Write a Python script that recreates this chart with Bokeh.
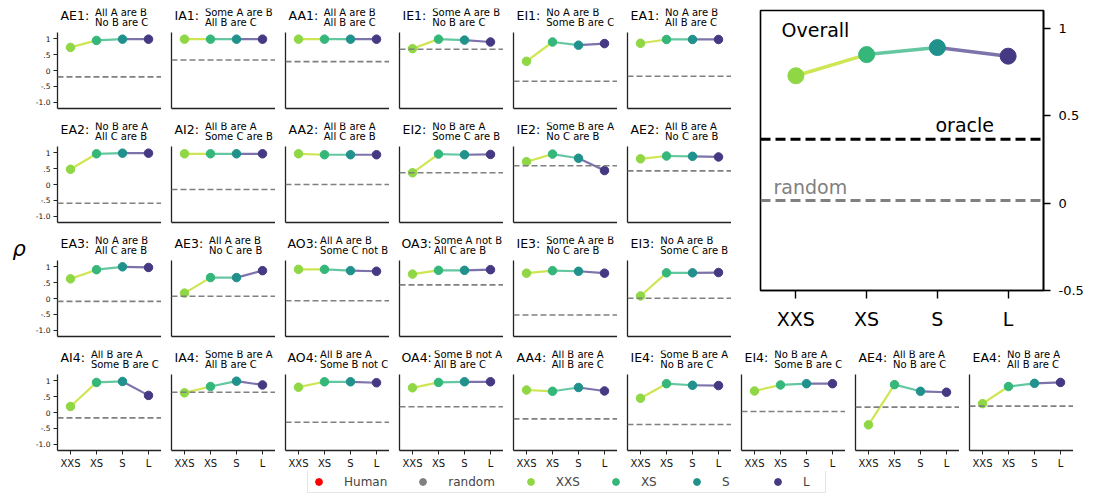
from bokeh.plotting import figure
from bokeh.models import Range1d, FactorRange, Span, Label, FixedTicker, Legend, LegendItem
from bokeh.layouts import row, column
from bokeh.embed import file_html
from bokeh.resources import INLINE

FONT = "DejaVu Sans"

# ---------------- data ----------------
sizes = ["XXS", "XS", "S", "L"]
size_colors = ["#8fd744", "#35b779", "#21918c", "#443983"]
seg_colors = ["#c3df28", "#3fb98a", "#5b5096"]

codes = ["AE1", "IA1", "AA1", "IE1", "EI1", "EA1",
         "EA2", "AI2", "AA2", "EI2", "IE2", "AE2",
         "EA3", "AE3", "AO3", "OA3", "IE3", "EI3",
         "AI4", "IA4", "AO4", "OA4", "AA4", "IE4", "EI4", "AE4", "EA4"]
premise1 = ["All A are B", "Some A are B", "All A are B", "Some A are B", "No A are B", "No A are B",
            "No B are A", "All B are A", "All B are A", "No B are A", "Some B are A", "All B are A",
            "No A are B", "All A are B", "All A are B", "Some A not B", "Some A are B", "No A are B",
            "All B are A", "Some B are A", "All B are A", "Some B not A", "All B are A", "Some B are A",
            "No B are A", "All B are A", "No B are A"]
premise2 = ["No B are C", "All B are C", "All B are C", "No B are C", "Some B are C", "All B are C",
            "All C are B", "Some C are B", "All C are B", "Some C are B", "No C are B", "No C are B",
            "All C are B", "No C are B", "Some C not B", "All C are B", "No C are B", "Some C are B",
            "Some B are C", "All B are C", "Some B not C", "All B are C", "All B are C", "No B are C",
            "Some B are C", "No B are C", "All B are C"]
rho_xxs = [0.73, 0.99, 0.99, 0.69, 0.29, 0.86,
           0.48, 0.97, 0.97, 0.37, 0.72, 0.81,
           0.62, 0.17, 0.92, 0.77, 0.80, 0.08,
           0.19, 0.62, 0.80, 0.78, 0.71, 0.45, 0.68, -0.39, 0.28]
rho_xs = [0.95, 0.99, 0.99, 0.99, 0.90, 0.98,
          0.97, 0.97, 0.94, 0.96, 0.96, 0.90,
          0.91, 0.66, 0.92, 0.89, 0.88, 0.81,
          0.95, 0.82, 0.97, 0.95, 0.67, 0.91, 0.87, 0.88, 0.82]
rho_s = [0.99, 0.99, 0.99, 0.96, 0.80, 0.98,
         0.99, 0.97, 0.94, 0.94, 0.83, 0.89,
         1.00, 0.66, 0.88, 0.89, 0.86, 0.81,
         0.98, 0.99, 0.97, 0.97, 0.79, 0.86, 0.91, 0.67, 0.92]
rho_l = [0.99, 0.99, 0.99, 0.90, 0.85, 0.98,
         0.99, 0.97, 0.94, 0.95, 0.44, 0.87,
         0.98, 0.88, 0.86, 0.91, 0.80, 0.82,
         0.54, 0.87, 0.94, 0.97, 0.68, 0.85, 0.91, 0.64, 0.95]
rho_random = [-0.20, 0.33, 0.28, 0.67, -0.34, -0.18,
              -0.59, -0.16, 0.00, 0.37, 0.59, 0.43,
              -0.09, 0.07, -0.07, 0.43, -0.52, 0.01,
              -0.17, 0.64, -0.31, 0.18, -0.20, -0.38, 0.03, 0.17, 0.20]

overall_rho = [0.727, 0.848, 0.888, 0.839]
overall_oracle = 0.365
overall_random = 0.015

ytick_vals = [-1.0, -0.5, 0.0, 0.5, 1.0]
ytick_labels = ["-1.0", "-.5", "0", ".5", "1"]
overall_ytick_vals = [-0.5, 0.0, 0.5, 1.0]
overall_ytick_labels = ["-0.5", "0", "0.5", "1"]

legend_names = ["Human", "random", "XXS", "XS", "S", "L"]
legend_colors = ["#ff0000", "#808080"] + size_colors

# DejaVu Sans advance widths (em) for the panel codes
CHAR_W = {"A": 0.684, "E": 0.632, "I": 0.295, "O": 0.787, "1": 0.636,
          "2": 0.636, "3": 0.636, "4": 0.636, ":": 0.337}

Y_LO, Y_HI = -1.2, 1.2
PLOT_H = 76          # height of the data area of a small panel
TITLE_H = 24         # extra room above it (inside the frame) for the title texts
Y_TOP = Y_HI + (Y_HI - Y_LO) * TITLE_H / PLOT_H
RHO_W = 24           # strip holding the rho label, left of rows 1-3


def base_fig(**kw):
    p = figure(output_backend="svg", toolbar_location=None,
               background_fill_color="white", border_fill_color="white", **kw)
    p.xgrid.visible = False
    p.ygrid.visible = False
    return p


def small_panel(i, left_border, first_col, last_row):
    p = base_fig(frame_width=104, frame_height=PLOT_H + TITLE_H,
                 x_range=FactorRange(factors=sizes), y_range=Range1d(Y_LO, Y_TOP),
                 min_border_left=left_border, min_border_right=0,
                 min_border_top=0, min_border_bottom=20 if last_row else 14,
                 outline_line_color=None)
    xa, ya = p.xaxis[0], p.yaxis[0]
    for ax in (xa, ya):
        ax.axis_line_color = "#222222"
        ax.axis_line_width = 1.3
        ax.major_tick_line_color = "#222222"
        ax.minor_tick_line_color = None
        ax.major_tick_in = 0
        ax.major_label_text_font = FONT
        ax.major_label_text_color = "#111111"
    ya.bounds = (Y_LO, Y_HI)
    if first_col:
        ya.ticker = FixedTicker(ticks=ytick_vals)
        ya.major_label_overrides = dict(zip(ytick_vals, ytick_labels))
        ya.major_tick_out = 4
        ya.major_label_text_font_size = "7.5px"
        ya.major_label_standoff = 3
    else:
        ya.ticker = FixedTicker(ticks=[])
        ya.major_tick_out = 0
        ya.major_label_standoff = 0
    if last_row:
        xa.major_tick_out = 4
        xa.major_label_text_font_size = "10px"
        xa.major_label_standoff = 3
    else:
        xa.ticker = FixedTicker(ticks=[])
        xa.major_tick_out = 0
        xa.major_label_standoff = 0

    p.add_layout(Span(location=rho_random[i], dimension="width", line_color="#808080",
                      line_dash="6 3", line_width=1.6))
    vals = [rho_xxs[i], rho_xs[i], rho_s[i], rho_l[i]]
    p.segment(x0=sizes[:-1], y0=vals[:-1], x1=sizes[1:], y1=vals[1:],
              line_color=seg_colors, line_width=2.2, line_alpha=0.8)
    p.scatter(x=sizes, y=vals, size=8.5, fill_color=size_colors, line_color=size_colors)

    code = codes[i] + ":"
    narrow = "O" in code
    x0 = 2 if narrow else 3
    gap = 2 if narrow else 6
    p.add_layout(Label(x=x0, y=PLOT_H + 17, x_units="screen", y_units="screen", text=code,
                       text_font=FONT, text_font_size="12.5px", text_baseline="middle",
                       text_color="black"))
    w = sum(CHAR_W.get(c, 0.6) for c in code) * 12.5
    sx = x0 + w + gap
    p.add_layout(Label(x=sx, y=PLOT_H + 20, x_units="screen", y_units="screen", text=premise1[i],
                       text_font=FONT, text_font_size="10px", text_baseline="middle",
                       text_color="black"))
    p.add_layout(Label(x=sx, y=PLOT_H + 10, x_units="screen", y_units="screen", text=premise2[i],
                       text_font=FONT, text_font_size="10px", text_baseline="middle",
                       text_color="black"))
    return p


rows = []
idx = 0
for r, n in enumerate([6, 6, 6, 9]):
    figs = []
    for c in range(n):
        if c == 0:
            lb = 49 - RHO_W if r < 3 else 49
        else:
            lb = 10
        figs.append(small_panel(idx, lb, c == 0, r == 3))
        idx += 1
    rows.append(figs)

# ---------------- rho strip (left of rows 1-3) ----------------
prho = base_fig(frame_width=RHO_W, frame_height=3 * 114, x_range=Range1d(0, 1), y_range=Range1d(0, 1),
                x_axis_location=None, y_axis_location=None,
                min_border_left=0, min_border_right=0, min_border_top=0, min_border_bottom=0,
                outline_line_color=None)
prho.add_layout(Label(x=4, y=104, x_units="screen", y_units="screen", text="ρ",
                      text_font=FONT, text_font_size="21px", text_font_style="italic",
                      text_baseline="alphabetic", text_color="black"))

# ---------------- overall panel ----------------
po = base_fig(frame_width=283, frame_height=280,
              x_range=FactorRange(factors=sizes), y_range=Range1d(-0.5, 1.1),
              y_axis_location="right",
              min_border_left=29, min_border_right=42, min_border_top=2, min_border_bottom=60,
              outline_line_color="black", outline_line_width=1.6)
oxa, oya = po.xaxis[0], po.yaxis[0]
for ax in (oxa, oya):
    ax.axis_line_color = "black"
    ax.axis_line_width = 1.6
    ax.major_tick_line_color = "black"
    ax.major_tick_line_width = 1.4
    ax.minor_tick_line_color = None
    ax.major_tick_in = 0
    ax.major_label_text_font = FONT
    ax.major_label_text_color = "black"
oya.ticker = FixedTicker(ticks=overall_ytick_vals)
oya.major_label_overrides = dict(zip(overall_ytick_vals, overall_ytick_labels))
oya.major_tick_out = 7
oya.major_label_standoff = 8
oya.major_label_text_font_size = "13px"
oxa.major_tick_out = 8
oxa.major_label_standoff = 9
oxa.major_label_text_font_size = "19px"

po.add_layout(Span(location=overall_oracle, dimension="width", line_color="black",
                   line_dash="10 5", line_width=3))
po.add_layout(Span(location=overall_random, dimension="width", line_color="#808080",
                   line_dash="10 5", line_width=3))
po.segment(x0=sizes[:-1], y0=overall_rho[:-1], x1=sizes[1:], y1=overall_rho[1:],
           line_color=seg_colors, line_width=3.5, line_alpha=0.8)
po.scatter(x=sizes, y=overall_rho, size=16, fill_color=size_colors, line_color=size_colors)
po.add_layout(Label(x=21, y=261, x_units="screen", y_units="screen", text="Overall",
                    text_font=FONT, text_font_size="19px", text_baseline="middle",
                    text_color="black"))
po.add_layout(Label(x=175, y=overall_oracle, x_units="screen", y_units="data", y_offset=14,
                    text="oracle", text_font=FONT, text_font_size="19px",
                    text_baseline="alphabetic", text_color="black"))
po.add_layout(Label(x=13, y=overall_random, x_units="screen", y_units="data", y_offset=13,
                    text="random", text_font=FONT, text_font_size="19px",
                    text_baseline="alphabetic", text_color="#808080"))

# ---------------- legend strip ----------------
# the strip's y range lies far above the data, so its points stay out of view
pl = base_fig(frame_width=1065, frame_height=22, x_range=FactorRange(factors=sizes),
              y_range=Range1d(10, 11),
              x_axis_location=None, y_axis_location=None,
              min_border_left=0, min_border_right=0, min_border_top=0, min_border_bottom=0,
              outline_line_color=None)
items = []
for name, col in zip(legend_names, legend_colors):
    rr = pl.scatter(x=sizes, y=overall_rho, size=7, fill_color=col, line_color=col)
    items.append(LegendItem(label=name, renderers=[rr]))
leg = Legend(items=items, orientation="horizontal", location=(299, 0), margin=0,
             padding=2, spacing=27, label_standoff=17, glyph_width=17, glyph_height=17,
             label_height=17, label_text_font=FONT, label_text_font_size="12px",
             border_line_color="#cccccc", border_line_width=1,
             background_fill_color="white", background_fill_alpha=1)
pl.add_layout(leg)

layout = column(
    row(prho, column(row(*rows[0]), row(*rows[1]), row(*rows[2])), po),
    row(*rows[3]),
    pl,
    margin=(8, 0, 0, 8),
)

open("out.html", "w").write(file_html(layout, INLINE))
